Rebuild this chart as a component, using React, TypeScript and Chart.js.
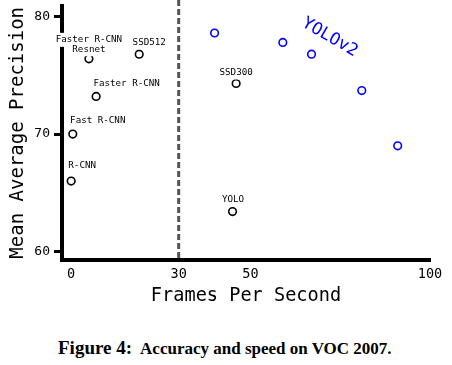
import React, { useEffect, useRef } from 'react';
import { Chart, registerables } from 'chart.js';

Chart.register(...registerables);

// Detection methods (black circles)
const methodNames = ['R-CNN', 'Fast R-CNN', 'Faster R-CNN', 'Faster R-CNN\nResnet', 'SSD512', 'SSD300', 'YOLO'];
const methodFps = [0.05, 0.5, 7, 5, 19, 46, 45];
const methodMap = [66.0, 70.0, 73.2, 76.4, 76.8, 74.3, 63.4];

// YOLOv2 at several input resolutions (blue circles)
const yolov2Fps = [40, 59, 67, 81, 91];
const yolov2Map = [78.6, 77.8, 76.8, 73.7, 69.0];
const yolov2Name = 'YOLOv2';

// Axis ticks
const xTicks = [0, 30, 50, 100];
const yTicks = [60, 70, 80];
const realtimeFps = 30;

// label placement (pixel offsets from the point)
const labelOffsets: [number, number][] = [
  [11, -15],
  [25, -13],
  [30.5, -13],
  [0, -19],
  [10, -11.6],
  [0, -11],
  [0.5, -11.6],
];
const yolov2LabelAnchor = 1;

const MONO = '"DejaVu Sans Mono", monospace';

export default function App() {
  const ref = useRef<HTMLCanvasElement>(null);

  useEffect(() => {
    if (!ref.current) return;

    const dashPlugin = {
      id: 'realtimeLine',
      beforeDatasetsDraw(chart: any) {
        const { ctx, chartArea, scales } = chart;
        const x = scales.x.getPixelForValue(realtimeFps);
        ctx.save();
        ctx.strokeStyle = '#555555';
        ctx.lineWidth = 3;
        ctx.setLineDash([6, 3]);
        ctx.beginPath();
        ctx.moveTo(x, 0);
        ctx.lineTo(x, chartArea.bottom - 2);
        ctx.stroke();
        ctx.restore();
      },
    };

    const labelPlugin = {
      id: 'pointLabels',
      afterDatasetsDraw(chart: any) {
        const { ctx } = chart;
        const meta = chart.getDatasetMeta(0);
        ctx.save();
        ctx.font = `9.2px ${MONO}`;
        ctx.textAlign = 'center';
        ctx.textBaseline = 'middle';
        meta.data.forEach((pt: any, i: number) => {
          const lines = methodNames[i].split('\n');
          const [dx, dy] = labelOffsets[i];
          lines.forEach((line, j) => {
            const x = pt.x + dx;
            const y = pt.y + dy + j * 9.4;
            const w = ctx.measureText(line).width;
            ctx.fillStyle = '#ffffff';
            ctx.fillRect(x - w / 2 - 2, y - 7, w + 4, 14);
          });
        });
        meta.data.forEach((pt: any, i: number) => {
          const lines = methodNames[i].split('\n');
          const [dx, dy] = labelOffsets[i];
          lines.forEach((line, j) => {
            ctx.fillStyle = '#000000';
            ctx.fillText(line, pt.x + dx, pt.y + dy + j * 9.4);
          });
        });
        const m2 = chart.getDatasetMeta(1);
        const p = m2.data[yolov2LabelAnchor];
        ctx.translate(p.x + 47, p.y - 5);
        ctx.rotate((30 * Math.PI) / 180);
        ctx.font = `17px ${MONO}`;
        ctx.fillStyle = '#0000ff';
        ctx.fillText(yolov2Name, 0, 0);
        ctx.restore();
      },
    };

    const chart = new Chart(ref.current, {
      type: 'scatter',
      data: {
        datasets: [
          {
            data: methodFps.map((x, i) => ({ x, y: methodMap[i] })),
            pointRadius: 3.8,
            pointBorderWidth: 1.6,
            borderColor: '#000000',
            backgroundColor: 'rgba(0,0,0,0)',
            pointStyle: 'circle',
          },
          {
            data: yolov2Fps.map((x, i) => ({ x, y: yolov2Map[i] })),
            pointRadius: 3.8,
            pointBorderWidth: 1.6,
            borderColor: '#0000ff',
            backgroundColor: 'rgba(0,0,0,0)',
            pointStyle: 'circle',
          },
        ],
      },
      options: {
        animation: false,
        responsive: false,
        maintainAspectRatio: false,
        layout: { padding: { top: 3, right: 22, left: 0, bottom: 0 } },
        plugins: { legend: { display: false }, tooltip: { enabled: false } },
        scales: {
          x: {
            type: 'linear',
            min: -2.5,
            max: 100,
            afterBuildTicks: (s: any) => {
              s.ticks = xTicks.map((v) => ({ value: v }));
            },
            afterFit: (s: any) => {
              s.height = 58;
              s.paddingLeft = 0;
              s.paddingRight = 0;
            },
            grid: { display: false, drawTicks: false, tickLength: 0 },
            border: { display: true, color: '#000000', width: 4 },
            ticks: {
              font: { family: MONO, size: 13.5 },
              color: '#000000',
              padding: 6,
              maxRotation: 0,
              autoSkip: false,
            },
            title: {
              display: true,
              text: 'Frames Per Second',
              font: { family: MONO, size: 18.6 },
              color: '#000000',
              padding: { top: 0, bottom: 11 },
            },
          },
          y: {
            type: 'linear',
            min: 59.28,
            max: 80.93,
            afterBuildTicks: (s: any) => {
              s.ticks = yTicks.map((v) => ({ value: v }));
            },
            afterFit: (s: any) => {
              s.width = 62;
              s.paddingTop = 0;
              s.paddingBottom = 0;
            },
            grid: { drawOnChartArea: false, drawTicks: true, tickLength: 8, lineWidth: 3, color: '#000000' },
            border: { display: true, color: '#000000', width: 4 },
            ticks: {
              font: { family: MONO, size: 13 },
              color: '#000000',
              padding: 4,
            },
            title: {
              display: true,
              text: 'Mean Average Precision',
              font: { family: MONO, size: 19 },
              color: '#000000',
              padding: { top: 7, bottom: 0 },
            },
          },
        },
      },
      plugins: [dashPlugin, labelPlugin],
    } as any);

    return () => chart.destroy();
  }, []);

  return (
    <div style={{ position: 'absolute', left: 0, top: 0, width: 452, height: 365, background: '#fff' }}>
      <canvas ref={ref} width={452} height={318} style={{ position: 'absolute', left: 0, top: 0, width: 452, height: 318 }} />
      <div
        style={{
          position: 'absolute',
          left: 58,
          top: 338,
          whiteSpace: 'nowrap',
          fontFamily: '"Liberation Serif", serif',
          fontWeight: 'bold',
          lineHeight: '19px',
          color: '#000',
        }}
      >
        <span style={{ fontSize: 19 }}>Figure 4:</span>
        <span style={{ fontSize: 17, marginLeft: 8 }}>Accuracy and speed on VOC 2007.</span>
      </div>
    </div>
  );
}
